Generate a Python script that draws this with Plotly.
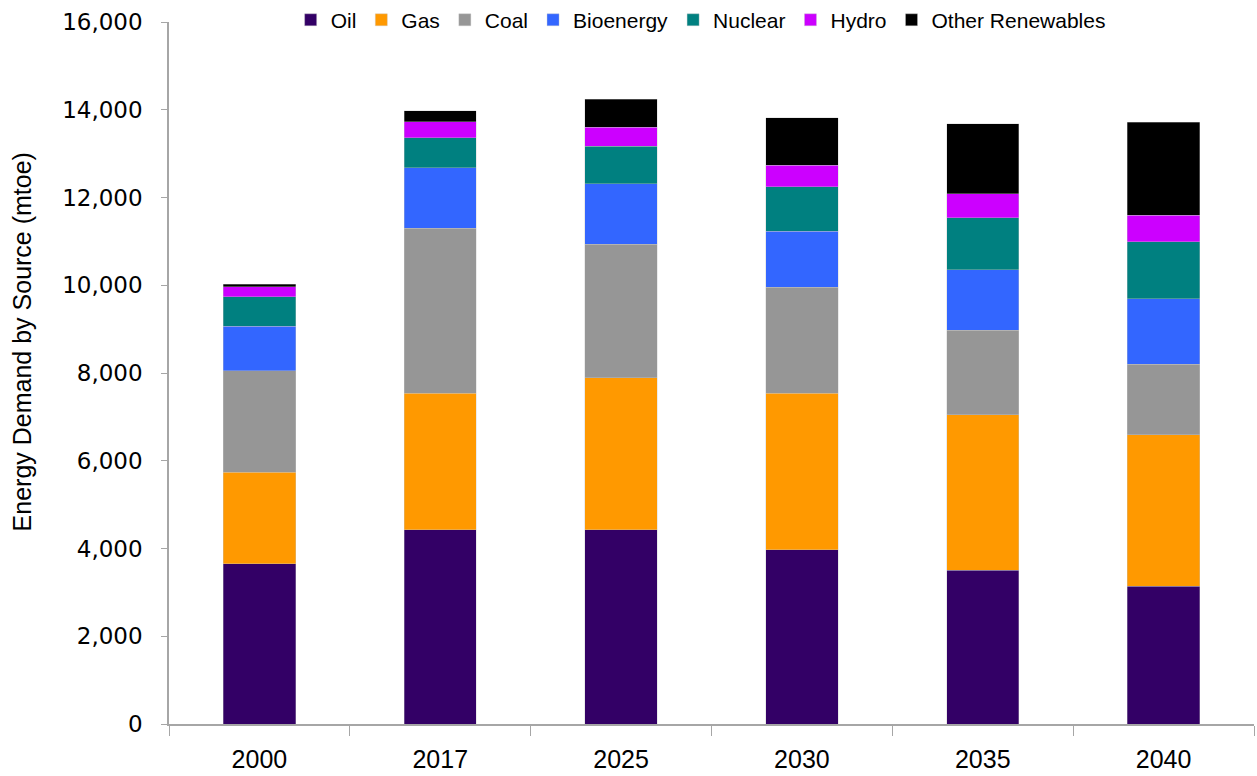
import plotly.graph_objects as go

years = ["2000", "2017", "2025", "2030", "2035", "2040"]

oil = [3650, 4430, 4430, 3975, 3510, 3145]
gas = [2085, 3110, 3460, 3560, 3540, 3445]
coal = [2315, 3760, 3040, 2420, 1920, 1605]
bioenergy = [1015, 1375, 1380, 1275, 1380, 1495]
nuclear = [675, 685, 855, 1010, 1185, 1300]
hydro = [230, 365, 435, 495, 555, 600]
other_renewables = [50, 255, 645, 1080, 1590, 2125]

series = [
    ("Oil", oil, "#330066"),
    ("Gas", gas, "#FF9900"),
    ("Coal", coal, "#969696"),
    ("Bioenergy", bioenergy, "#3366FF"),
    ("Nuclear", nuclear, "#008080"),
    ("Hydro", hydro, "#CC00FF"),
    ("Other Renewables", other_renewables, "#000000"),
]

y_title = "Energy Demand by Source (mtoe)"
text_font = "Liberation Sans, Arial, sans-serif"

fig = go.Figure()
for name, vals, color in series:
    fig.add_trace(go.Bar(
        x=years, y=vals, name=name,
        marker=dict(color=color, line=dict(width=0.6, color="rgba(200,200,200,0.6)")),
    ))

fig.update_layout(
    barmode="stack",
    bargap=0.6,
    width=1257, height=776,
    margin=dict(l=169, r=3, t=22, b=52, autoexpand=False),
    plot_bgcolor="white",
    paper_bgcolor="white",
    font=dict(family=text_font, size=21, color="#000000"),
    legend=dict(
        orientation="h",
        x=0.49, xanchor="center",
        yref="container",
        y=0.974, yanchor="middle",
        font=dict(family=text_font, size=21),
        bgcolor="rgba(255,255,255,0)",
        itemwidth=30,
        traceorder="normal",
    ),
    showlegend=True,
)

# vertical axis title, placed a little above the plot's mid-height
fig.add_annotation(
    text=y_title, textangle=-90,
    xref="paper", yref="paper", x=-0.1355, y=0.545,
    xanchor="center", yanchor="middle",
    showarrow=False,
    font=dict(family=text_font, size=25, color="#000000"),
)

fig.update_xaxes(
    type="category",
    automargin=False,
    showline=True, linecolor="#A6A6A6", linewidth=1.5,
    ticks="outside", tickson="boundaries", ticklen=10, tickcolor="#A6A6A6",
    tickfont=dict(family=text_font, size=25),
    ticklabelstandoff=12,
    showgrid=False,
)

fig.update_yaxes(
    range=[0, 16000],
    dtick=2000,
    tickformat=",d",
    automargin=False,
    showline=True, linecolor="#A6A6A6", linewidth=1.5,
    ticks="outside", ticklen=6, tickcolor="#A6A6A6",
    tickfont=dict(family="DejaVu Sans, Verdana, sans-serif", size=23),
    ticklabelstandoff=14,
    showgrid=False,
    zeroline=False,
)

fig.write_html("out.html")
